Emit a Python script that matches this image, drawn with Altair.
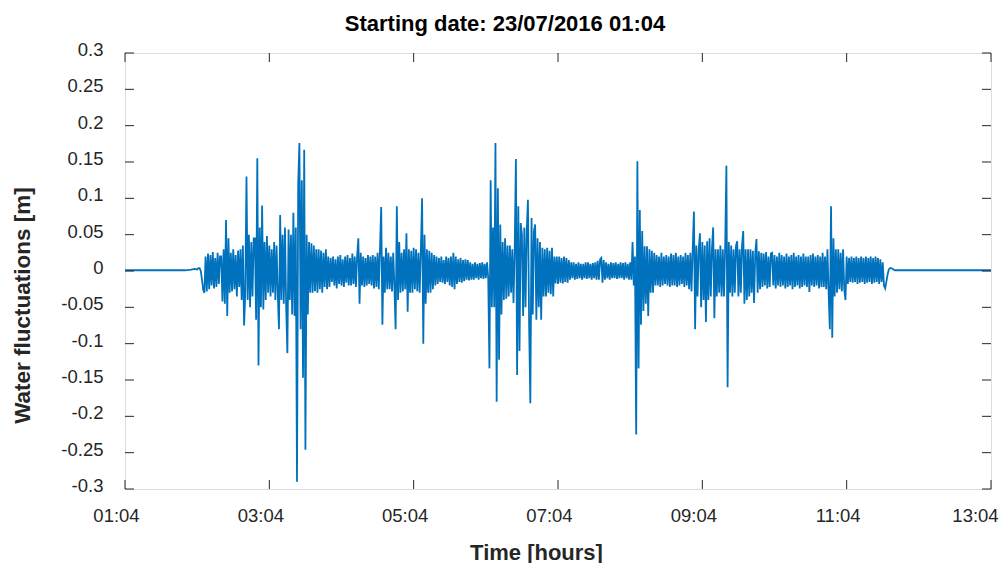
import altair as alt
import pandas as pd

# ---- data (minutes after 01:04, metres) ----
pre_minutes = [0, 10, 20, 30, 40, 50, 55, 58]
pre_values = [0.001, 0.001, 0.001, 0.001, 0.001, 0.001, 0.002, 0.003]

active_start = 60  # minute of first active sample, 1-minute spacing
active_values = [
    # 60
    0.002, 0.004, 0.004, 0.0, -0.012, -0.026, -0.03, 0.02, -0.028, 0.024,
    # 70
    -0.025, 0.022, -0.02, 0.026, -0.024, 0.018, -0.022, 0.025, -0.018, 0.02,
    # 80
    0.02, -0.042, 0.03, -0.045, 0.07, -0.062, 0.045, -0.03, 0.025, -0.028,
    # 90
    0.03, -0.025, 0.022, -0.035, 0.028, -0.022, 0.03, -0.04, 0.035, -0.075,
    # 100
    -0.03, 0.13, -0.04, 0.05, -0.05, 0.04, -0.035, 0.045, 0.045, -0.067,
    # 110
    0.155, -0.13, 0.06, -0.05, 0.09, -0.053, 0.04, -0.04, 0.048, -0.03,
    # 120
    0.035, -0.035, 0.03, -0.03, 0.04, -0.04, 0.035, -0.03, -0.08, 0.077,
    # 130
    -0.04, 0.05, -0.045, 0.06, -0.05, -0.113, 0.057, -0.04, 0.05, -0.06,
    # 140
    0.08, -0.062, 0.06, -0.29, 0.12, 0.176, -0.08, 0.125, -0.147, 0.167,
    # 150
    -0.246, 0.05, -0.06, 0.04, -0.03, 0.038, -0.03, 0.035, -0.028, 0.03,
    # 160
    -0.03, 0.03, -0.025, 0.028, -0.03, 0.025, -0.022, 0.03, -0.025, 0.02,
    # 170
    -0.022, 0.018, -0.015, 0.02, -0.02, 0.016, -0.024, 0.02, -0.018, 0.022,
    # 180
    -0.02, 0.016, -0.022, 0.02, -0.016, 0.022, -0.02, 0.018, -0.02, 0.024,
    # 190
    -0.018, 0.02, -0.022, 0.02, 0.045, -0.045, 0.025, -0.02, 0.02, -0.022,
    # 200
    0.018, -0.02, 0.022, -0.018, 0.02, -0.02, 0.022, -0.024, 0.02, -0.022,
    # 210
    0.025, -0.025, 0.03, 0.088, -0.074, 0.02, -0.03, 0.032, -0.025, 0.025,
    # 220
    -0.025, 0.02, -0.028, 0.025, -0.022, -0.08, 0.089, -0.04, 0.04, -0.03,
    # 230
    0.025, -0.028, 0.03, -0.025, 0.052, -0.056, 0.03, -0.03, 0.028, -0.03,
    # 240
    0.032, -0.025, 0.03, -0.028, 0.025, -0.03, 0.03, 0.1, -0.1, 0.05,
    # 250
    -0.045, 0.03, -0.03, 0.028, -0.03, 0.025, -0.025, 0.022, -0.02, 0.02,
    # 260
    -0.018, 0.018, -0.015, 0.02, -0.016, 0.015, -0.018, 0.02, -0.015, 0.018,
    # 270
    -0.02, 0.02, -0.022, 0.025, -0.025, 0.02, -0.018, 0.016, -0.015, 0.018,
    # 280
    -0.016, 0.015, -0.014, 0.016, -0.012, 0.015, -0.013, 0.012, -0.012, 0.01,
    # 290
    -0.012, 0.012, -0.01, 0.01, -0.012, 0.011, -0.01, 0.012, -0.011, 0.01,
    # 300
    -0.01, 0.012, -0.01, -0.134, 0.125, -0.05, 0.06, -0.05, 0.176, -0.18,
    # 310
    0.114, -0.122, 0.064, -0.06, 0.04, -0.04, 0.045, -0.038, 0.035, -0.035,
    # 320
    0.035, -0.03, 0.03, -0.044, 0.03, 0.154, -0.143, 0.089, -0.11, 0.066,
    # 330
    0.05, -0.062, 0.06, -0.05, 0.055, 0.098, -0.075, -0.182, 0.073, -0.06,
    # 340
    0.055, 0.064, -0.067, 0.045, -0.05, 0.04, -0.067, 0.032, -0.035, 0.03,
    # 350
    -0.035, 0.032, -0.03, 0.028, -0.032, 0.032, -0.035, 0.02, -0.017, 0.02,
    # 360
    -0.018, 0.02, -0.016, 0.018, -0.017, 0.02, -0.015, 0.018, -0.016, 0.015,
    # 370
    -0.012, 0.012, -0.01, 0.012, -0.012, 0.01, -0.011, 0.012, -0.01, 0.01,
    # 380
    -0.012, 0.01, -0.01, 0.012, -0.011, 0.012, -0.01, 0.01, -0.012, 0.011,
    # 390
    -0.01, 0.012, -0.012, 0.014, -0.012, 0.016, 0.018, -0.016, 0.015, -0.012,
    # 400
    0.012, -0.01, 0.01, -0.012, 0.012, -0.01, 0.011, -0.01, 0.012, -0.011,
    # 410
    0.01, -0.01, 0.012, -0.01, 0.011, -0.012, 0.012, -0.01, 0.01, -0.012,
    # 420
    0.012, -0.012, 0.04, -0.02, 0.02, -0.225, 0.151, -0.134, 0.084, -0.074,
    # 430
    0.055, -0.055, 0.034, -0.045, 0.034, -0.062, 0.03, -0.03, 0.028, -0.03,
    # 440
    0.025, -0.02, 0.022, -0.02, 0.02, -0.022, 0.025, -0.02, 0.02, -0.018,
    # 450
    0.022, -0.02, 0.02, -0.022, 0.024, -0.02, 0.022, -0.02, 0.025, -0.022,
    # 460
    0.02, -0.02, 0.022, -0.018, 0.02, -0.022, 0.025, -0.02, 0.022, -0.025,
    # 470
    0.025, -0.028, 0.03, 0.082, -0.08, 0.035, -0.035, 0.03, 0.052, -0.05,
    # 480
    0.04, -0.04, 0.035, -0.07, 0.041, -0.04, 0.045, -0.035, 0.03, 0.06,
    # 490
    -0.065, 0.03, -0.035, 0.03, -0.03, 0.035, -0.035, 0.03, -0.035, 0.035,
    # 500
    0.145, -0.16, 0.04, -0.03, 0.035, -0.035, 0.03, -0.03, 0.035, 0.041,
    # 510
    -0.035, 0.03, -0.03, 0.035, 0.055, -0.045, 0.03, -0.04, 0.03, -0.035,
    # 520
    0.03, -0.03, 0.028, -0.044, 0.025, 0.044, -0.03, 0.027, -0.025, 0.025,
    # 530
    -0.022, 0.024, -0.02, 0.026, -0.024, 0.02, -0.022, 0.024, 0.025, -0.02,
    # 540
    0.022, -0.024, 0.02, -0.02, 0.025, -0.022, 0.022, -0.02, 0.02, -0.024,
    # 550
    0.024, -0.022, 0.02, -0.02, 0.022, -0.025, 0.025, -0.022, 0.02, -0.02,
    # 560
    0.022, -0.024, 0.02, -0.022, 0.024, -0.02, 0.02, -0.022, 0.02, -0.029,
    # 570
    0.022, -0.02, 0.024, -0.022, 0.02, -0.02, 0.022, -0.024, 0.02, -0.022,
    # 580
    0.025, -0.022, 0.02, -0.025, 0.03, -0.03, -0.08, 0.089, -0.092, 0.045,
    # 590
    -0.035, 0.03, -0.03, 0.03, -0.025, 0.025, -0.028, 0.03, -0.025, -0.04,
    # 600
    0.02, -0.018, 0.018, -0.015, 0.02, -0.016, 0.018, -0.015, 0.02, -0.018,
    # 610
    0.018, -0.016, 0.02, -0.015, 0.018, -0.018, 0.02, -0.016, 0.018, -0.015,
    # 620
    0.02, -0.018, 0.018, -0.016, 0.02, -0.015, 0.018, -0.018, 0.016, -0.015,
    # 630
    0.012, -0.02, -0.024, -0.015, -0.005, 0.002, 0.004, 0.004, 0.003, 0.002,
    # 640
    0.001,
]

post_minutes = [650, 660, 680, 700, 720]
post_values = [0.001, 0.001, 0.001, 0.001, 0.001]

x_tick_minutes = [0, 120, 240, 360, 480, 600, 720]
x_tick_labels = ["01:04", "03:04", "05:04", "07:04", "09:04", "11:04", "13:04"]
y_tick_values = [-0.3, -0.25, -0.2, -0.15, -0.1, -0.05, 0, 0.05, 0.1, 0.15, 0.2, 0.25, 0.3]

# ---- build tables ----
minutes = pre_minutes + [active_start + i for i in range(len(active_values))] + post_minutes
values = pre_values + active_values + post_values
df = pd.DataFrame({"minute": minutes, "value": values})
xt = pd.DataFrame({"minute": x_tick_minutes})
yt = pd.DataFrame({"value": y_tick_values})

W, H = 866, 436
AX = "#262626"
FONT = "Liberation Sans"

label_expr_x = "[" + ",".join("'%s'" % s for s in x_tick_labels) + "][round(datum.value / 120)]"

xscale = alt.Scale(domain=[0, 720], nice=False, zero=False)
yscale = alt.Scale(domain=[-0.3, 0.3], nice=False, zero=False)

x_axis = alt.Axis(
    values=x_tick_minutes, labelExpr=label_expr_x, title="Time [hours]",
    grid=False, domain=False, ticks=False, tickSize=0,
    labelFont=FONT, labelFontSize=18.5, labelColor=AX, labelPadding=17,
    labelOffset={"condition": {"test": "datum.value == 720", "value": -16}, "value": -9},
    labelFlush=False, labelOverlap=False, labelBound=False,
    titleFont=FONT, titleFontSize=22, titleFontWeight="bold", titleColor=AX,
    titleX=411, titleY=70, titleBaseline="alphabetic", titleAnchor="start", titleAlign="center",
)
y_axis = alt.Axis(
    values=y_tick_values, labelExpr="'' + datum.value", title="Water fluctuations [m]",
    grid=False, domain=False, ticks=False, tickSize=0,
    labelFont=FONT, labelFontSize=18.5, labelColor=AX, labelPadding=22,
    labelOffset=-3.5, labelFlush=False, labelOverlap=False, labelBound=False,
    titleFont=FONT, titleFontSize=22.5, titleFontWeight="bold", titleColor=AX,
    titleX=-103, titleY=252, titleAngle=270, titleAlign="center", titleBaseline="middle",
    titleAnchor="start",
)

X = alt.X("minute:Q", scale=xscale, axis=x_axis)
Y = alt.Y("value:Q", scale=yscale, axis=y_axis)

line = alt.Chart(df).mark_line(color="#0072BD", strokeWidth=1.8, strokeJoin="miter").encode(
    x=X, y=Y, order="minute:Q"
)

tick_bottom = alt.Chart(xt).mark_rule(color=AX, strokeWidth=1).encode(
    x=X, y=alt.value(H), y2=alt.value(H - 9)
)
tick_top = alt.Chart(xt).mark_rule(color=AX, strokeWidth=1).encode(
    x=X, y=alt.value(0), y2=alt.value(9)
)
tick_left = alt.Chart(yt).mark_rule(color=AX, strokeWidth=1).encode(
    y=Y, x=alt.value(0), x2=alt.value(9)
)
tick_right = alt.Chart(yt).mark_rule(color=AX, strokeWidth=1).encode(
    y=Y, x=alt.value(W), x2=alt.value(W - 9)
)

chart = alt.layer(line, tick_bottom, tick_top, tick_left, tick_right).properties(
    width=W, height=H,
    title=alt.TitleParams(
        text="Starting date: 23/07/2016 01:04", font=FONT, fontSize=22,
        fontWeight="bold", color="#000000", anchor="middle", dx=-53, offset=5,
    ),
    autosize=alt.AutoSizeParams(type="none"),
    padding={"left": 117, "top": 45, "right": 8, "bottom": 74},
).configure_view(stroke=AX, strokeWidth=1).configure(background="white")

chart.save("out.html", embed_options={"renderer": "svg", "actions": False})
